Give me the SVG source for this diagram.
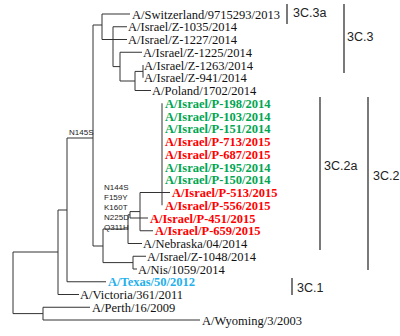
<svg xmlns="http://www.w3.org/2000/svg" width="400" height="336" viewBox="0 0 400 336">
<style>
.e{fill:none;stroke:#333;stroke-width:1}
.b{fill:none;stroke:#222;stroke-width:1.2}
.t{font-family:"Liberation Serif","Times New Roman",serif;font-size:12.5px;fill:#111}
.g{font-family:"Liberation Serif","Times New Roman",serif;font-size:12.5px;font-weight:bold;fill:#00a651}
.r{font-family:"Liberation Serif","Times New Roman",serif;font-size:12.5px;font-weight:bold;fill:#ff0000}
.c{font-family:"Liberation Serif","Times New Roman",serif;font-size:12.5px;font-weight:bold;fill:#1fb0ec}
.m{font-family:"Liberation Sans",Arial,sans-serif;font-size:8px;fill:#222}
.k{font-family:"Liberation Sans",Arial,sans-serif;font-size:12.5px;fill:#222}
</style>
<rect width="400" height="336" fill="#fff"/>
<g id="connectors">
<path class="e" d="M13,252V313.6M13,252H58M13,313.6H43"/>
<path class="e" d="M43,307.25V320M43,307.25H90M43,320H200"/>
<path class="e" d="M58,210V294.5M58,294.5H79M58,210H67"/>
<path class="e" d="M67,138V281.75M67,281.75H106M67,138H93"/>
<path class="e" d="M93,25V246M93,25H102M93,246H103"/>
<path class="e" d="M102,14V39.5M102,14H130M102,39.5H127"/>
<path class="e" d="M113,26.75V66.6M113,26.75H127M113,66.6H120"/>
<path class="e" d="M120,52.25V81M120,52.25H142M120,81H135"/>
<path class="e" d="M135,71.4V90.5M135,71.4H143M135,90.5H151"/>
<path class="e" d="M143,65V77.75"/>
<path class="e" d="M103,229V262.6M103,229H128M103,262.6H133"/>
<path class="e" d="M133,256.25V269M133,256.25H146M133,269H137"/>
<path class="e" d="M128,214.8V243.5M128,243.5H142M128,214.8H130"/>
<path class="e" d="M130,211.6V218M130,218H148M130,211.6H140"/>
<path class="e" d="M140,192.5V230.75M140,230.75H153M140,192.5H170"/>
<path class="e" d="M162,103.25V205.25"/>
<path class="b" d="M287,4V24M344,4V73M320,97V250M368,97V270M292,278V295"/>
</g>
<g id="n-switzerland"><text class="t" x="132" y="18.5">A/Switzerland/9715293/2013</text></g>
<g id="n-z1035"><text class="t" x="128" y="31.25">A/Israel/Z-1035/2014</text></g>
<g id="n-z1227"><text class="t" x="128" y="44">A/Israel/Z-1227/2014</text></g>
<g id="n-z1225"><text class="t" x="143" y="56.75">A/Israel/Z-1225/2014</text></g>
<g id="n-z1263"><text class="t" x="144" y="69.5">A/Israel/Z-1263/2014</text></g>
<g id="n-z941"><text class="t" x="144" y="82.25">A/Israel/Z-941/2014</text></g>
<g id="n-poland"><text class="t" x="152" y="95">A/Poland/1702/2014</text></g>
<g id="n-p198"><text class="g" x="165" y="107.75">A/Israel/P-198/2014</text></g>
<g id="n-p103"><text class="g" x="165" y="120.5">A/Israel/P-103/2014</text></g>
<g id="n-p151"><text class="g" x="165" y="133.25">A/Israel/P-151/2014</text></g>
<g id="n-p713"><text class="r" x="165" y="146">A/Israel/P-713/2015</text></g>
<g id="n-p687"><text class="r" x="165" y="158.75">A/Israel/P-687/2015</text></g>
<g id="n-p195"><text class="g" x="165" y="171.5">A/Israel/P-195/2014</text></g>
<g id="n-p150"><text class="g" x="165" y="184.25">A/Israel/P-150/2014</text></g>
<g id="n-p513"><text class="r" x="172" y="197">A/Israel/P-513/2015</text></g>
<g id="n-p556"><text class="r" x="165" y="209.75">A/Israel/P-556/2015</text></g>
<g id="n-p451"><text class="r" x="150" y="222.5">A/Israel/P-451/2015</text></g>
<g id="n-p659"><text class="r" x="155" y="235.25">A/Israel/P-659/2015</text></g>
<g id="n-nebraska"><text class="t" x="143" y="248">A/Nebraska/04/2014</text></g>
<g id="n-z1048"><text class="t" x="147" y="260.75">A/Israel/Z-1048/2014</text></g>
<g id="n-nis"><text class="t" x="138" y="273.5">A/Nis/1059/2014</text></g>
<g id="n-texas"><text class="c" x="108" y="286.25">A/Texas/50/2012</text></g>
<g id="n-victoria"><text class="t" x="80" y="299">A/Victoria/361/2011</text></g>
<g id="n-perth"><text class="t" x="92" y="311.75">A/Perth/16/2009</text></g>
<g id="n-wyoming"><text class="t" x="202" y="324.5">A/Wyoming/3/2003</text></g>
<g id="mutations">
<text class="m" x="69" y="135">N145S</text>
<text class="m" x="104" y="190">N144S</text>
<text class="m" x="104" y="200">F159Y</text>
<text class="m" x="104" y="210">K160T</text>
<text class="m" x="104" y="220">N225D</text>
<text class="m" x="104" y="230">Q311H</text>
</g>
<g id="clades">
<text class="k" x="293" y="17">3C.3a</text>
<text class="k" x="347" y="41">3C.3</text>
<text class="k" x="324" y="170">3C.2a</text>
<text class="k" x="373" y="180">3C.2</text>
<text class="k" x="297" y="292">3C.1</text>
</g>
</svg>
